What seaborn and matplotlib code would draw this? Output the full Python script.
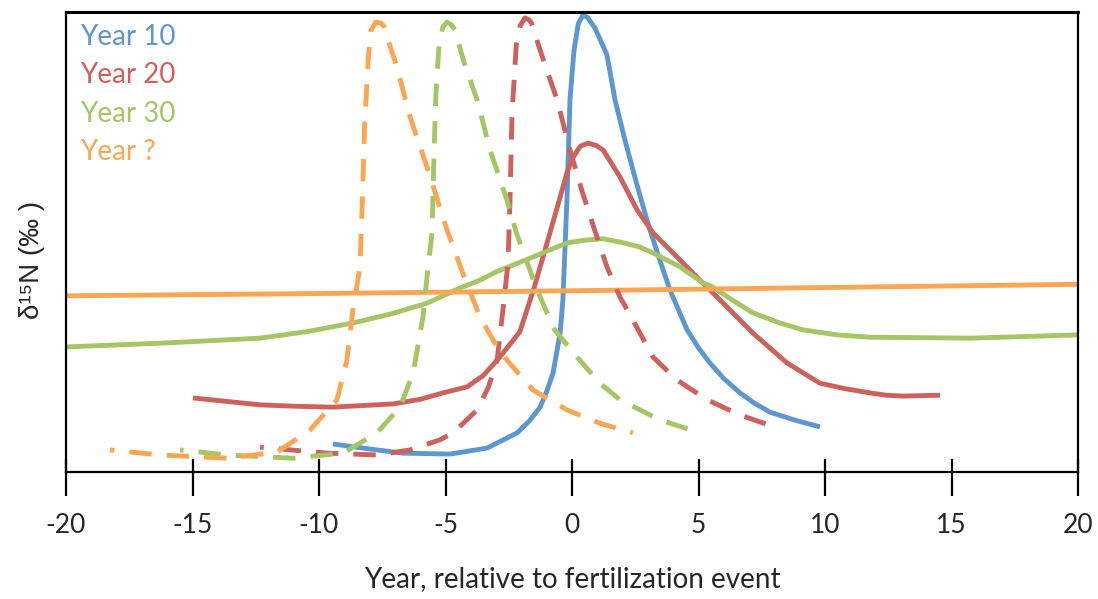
import numpy as np
import pandas as pd
import matplotlib
matplotlib.use("Agg")
import matplotlib.pyplot as plt
import seaborn as sns

# values; y is an arbitrary 0-100 scale (no y ticks in the original)
y10_x = [-9.45, -8.0, -6.68, -4.82, -3.36, -2.17, -1.70, -1.26, -1.00, -0.75, -0.47, -0.36, -0.20,
         -0.08, 0.08, 0.25, 0.43, 0.62, 0.91, 1.38, 1.70, 2.09, 2.57, 2.96, 3.40, 3.87, 4.55,
         5.00, 5.45, 6.00, 6.64, 7.20, 7.83, 8.80, 9.80]
y10_y = [6.1, 5.0, 4.1, 3.9, 5.2, 8.5, 11.0, 14.1, 17.5, 21.5, 30.2, 37.4, 59.1,
         80.9, 91.7, 97.5, 99.3, 98.8, 96.5, 90.7, 80.9, 72.2, 62.4, 54.8, 47.2, 39.6, 30.9,
         27.0, 23.7, 20.3, 17.2, 15.0, 13.0, 11.3, 9.8]

y20_x = [-14.98, -12.33, -11.0, -9.45, -7.07, -6.0, -5.10, -4.15, -3.50, -2.85, -2.06, -1.50,
         -0.87, -0.20, 0.0, 0.32, 0.63, 0.95, 1.23, 1.90, 2.57, 3.20, 4.27, 5.00, 5.85, 7.15,
         8.50, 9.80, 10.80, 11.78, 12.40, 13.08, 14.55]
y20_y = [16.1, 14.6, 14.3, 14.1, 14.8, 15.8, 17.2, 18.5, 21.0, 25.0, 30.5, 40.0,
         52.0, 65.0, 68.0, 70.8, 71.5, 71.0, 70.0, 64.1, 57.0, 52.0, 46.1, 42.0, 37.4, 30.2,
         23.7, 19.3, 18.1, 17.2, 16.7, 16.5, 16.7]

y30_x = [-19.96, -16.28, -12.33, -10.50, -8.66, -7.20, -5.73, -4.43, -3.64, -3.00, -1.70, -0.20,
         0.50, 1.23, 1.90, 2.69, 3.20, 4.27, 5.18, 5.57, 6.30, 7.15, 8.22, 9.13, 10.50, 11.78,
         15.73, 20.0]
y30_y = [27.2, 28.0, 29.1, 30.5, 32.4, 34.3, 36.7, 40.0, 41.7, 43.5, 46.4, 49.8,
         50.4, 50.7, 50.0, 48.9, 47.6, 44.6, 41.1, 40.2, 37.5, 34.6, 32.4, 30.9, 29.8, 29.3,
         29.1, 29.8]

yq_x = [-20.0, -10.0, 0.0, 10.0, 20.0]
yq_y = [38.3, 38.8, 39.4, 40.1, 40.8]

# dashed curves
d20_x = [-12.33, -9.68, -7.71, -6.40, -5.22, -4.70, -3.75, -3.30, -2.96, -2.73, -2.53, -2.45, -2.37,
         -2.20, -2.05, -1.86, -1.70, -1.60, -1.26, -0.59, -0.08, 0.40, 0.90, 1.38, 1.90, 2.41,
         3.20, 4.15, 5.34, 6.64, 8.10]
d20_y = [5.4, 4.1, 3.7, 4.8, 7.0, 8.5, 13.5, 18.5, 24.3, 35.2, 45.4, 59.1, 78.0,
         93.0, 97.0, 98.7, 98.3, 97.6, 91.7, 80.9, 70.0, 61.0, 52.5, 44.6, 38.0, 33.0,
         25.0, 20.0, 15.7, 12.4, 9.6]

d30_x = [-15.49, -13.64, -11.03, -9.05, -7.71, -6.80, -6.28, -5.89, -5.69, -5.53, -5.45, -5.38,
         -5.25, -5.10, -4.94, -4.78, -4.62, -4.30, -3.75, -3.24, -2.57, -2.20, -1.38, -0.70,
         0.20, 1.10, 1.90, 3.48, 5.06]
d30_y = [4.8, 3.7, 3.0, 4.1, 8.5, 14.1, 21.5, 33.7, 44.6, 52.0, 70.0, 82.0,
         93.5, 96.8, 97.8, 97.3, 96.1, 89.6, 80.9, 70.0, 59.1, 52.0, 39.6, 31.0,
         25.0, 19.3, 15.7, 11.3, 8.5]

dq_x = [-18.26, -16.28, -13.64, -11.66, -10.36, -9.29, -8.90, -8.66, -8.38, -8.28, -8.20, -8.05,
        -7.95, -7.75, -7.55, -7.45, -6.92, -6.40, -5.73, -4.94, -4.30, -3.64, -2.96, -2.57,
        -1.54, -0.20, 1.10, 2.41]
dq_y = [4.8, 3.7, 3.0, 4.3, 9.1, 15.7, 24.3, 35.2, 44.6, 60.0, 75.0, 90.0,
        96.0, 97.8, 97.6, 97.0, 88.0, 77.2, 66.3, 52.6, 43.0, 33.7, 27.2, 24.3,
        17.8, 13.5, 10.6, 8.5]

labels = ["Year 10", "Year 20", "Year 30", "Year ?"]
colors = ["#5d97cf", "#cd625c", "#a6c565", "#fba653"]

sns.set_theme(style="white")
plt.rcParams['font.family'] = ['Lato', 'DejaVu Sans']

fig = plt.figure(figsize=(10.98, 5.99), dpi=100)
ax = fig.add_axes([66/1098, 1-472/599, 1012/1098, 460/599])
ax.set_xlim(-20, 20)
ax.set_ylim(0, 100)

LW = 3.5
DASH, GAP = 4.6, 3.1

solid = [(y10_x, y10_y), (y20_x, y20_y), (y30_x, y30_y), (yq_x, yq_y)]
dashed = [(d20_x, d20_y, colors[1]), (d30_x, d30_y, colors[2]), (dq_x, dq_y, colors[3])]

for (xs, ys), c in zip(solid, colors):
    sns.lineplot(x=xs, y=ys, color=c, lw=LW, ax=ax, solid_capstyle='butt',
                 solid_joinstyle='round')

for xs, ys, c in dashed:
    sns.lineplot(x=xs, y=ys, color=c, lw=LW, ax=ax)
    # shift the dash phase so a dash sits on the peak, like the original
    pts = ax.transData.transform(np.column_stack([xs, ys])) * 72 / fig.dpi / LW
    seg = np.hypot(*np.diff(pts, axis=0).T)
    s_peak = np.concatenate([[0], np.cumsum(seg)])[int(np.argmax(ys))]
    offset = (DASH / 2 - s_peak) % (DASH + GAP)
    ax.lines[-1].set_linestyle((offset, (DASH, GAP)))
    ax.lines[-1].set_dash_capstyle('butt')
    ax.lines[-1].set_dash_joinstyle('round')

ax.set_xticks(np.arange(-20, 21, 5))
ax.set_xticklabels([str(v) for v in range(-20, 21, 5)])
ax.set_yticks([])

# ticks cross the axis: longer below, shorter above
ax.xaxis.remove_overlapping_locs = False
ax.set_xticks(np.arange(-20, 21, 5), minor=True)
ax.tick_params(axis='x', which='major', direction='out', length=17.5, width=1.6,
               color='black', labelsize=19, pad=12, bottom=True)
ax.tick_params(axis='x', which='minor', direction='in', length=9.5, width=1.6,
               color='black', bottom=True)

for s in ax.spines.values():
    s.set_color('black')
    s.set_linewidth(1.6)
ax.spines['top'].set_linewidth(2.2)

ax.set_xlabel("Year, relative to fertilization event", fontsize=20)
ax.xaxis.set_label_coords(0.5, -0.205)
ax.set_ylabel("δ¹⁵N (‰ )", fontsize=20, family=['Liberation Sans', 'DejaVu Sans'])
ax.yaxis.set_label_coords(-0.021, 0.46)

for i, (lab, c) in enumerate(zip(labels, colors)):
    ax.text(0.014, 0.945 - i * 0.083, lab, color=c, fontsize=20,
            transform=ax.transAxes, va='center', ha='left')

fig.savefig("out.png", dpi=100)
